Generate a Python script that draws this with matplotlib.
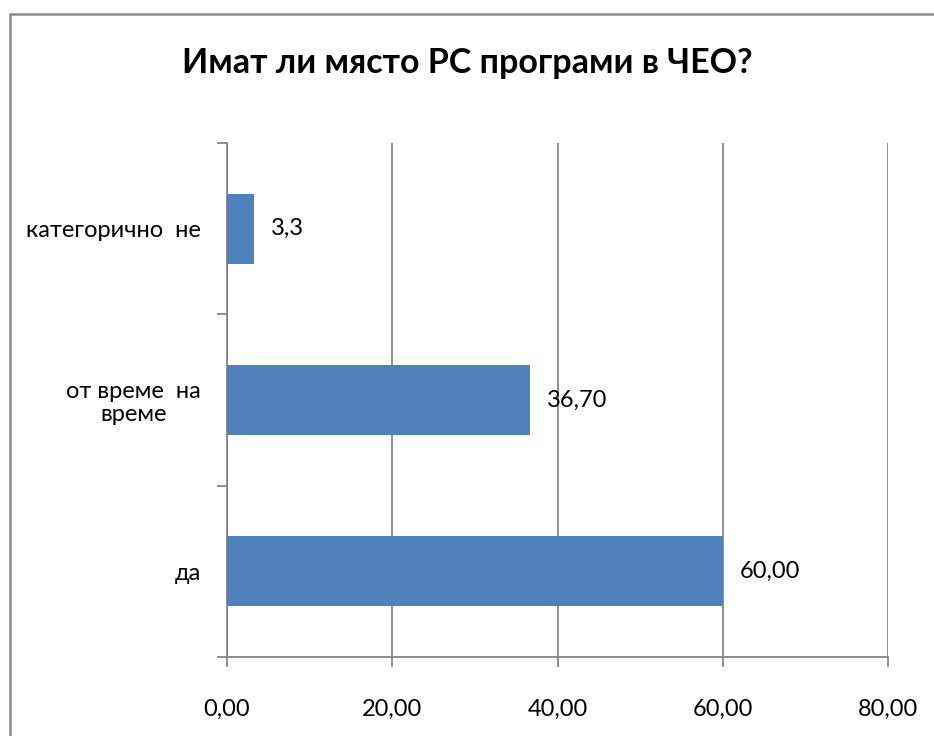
import matplotlib

matplotlib.use("Agg")

import matplotlib.pyplot as plt
from matplotlib.patches import Rectangle
from matplotlib.ticker import FixedLocator, FuncFormatter

# survey answers, bottom-to-top as drawn
categories = ["да", "от време  на\nвреме", "категорично  не"]
values = [60.00, 36.70, 3.3]
value_labels = ["60,00", "36,70", "3,3"]
xticks = [0, 20, 40, 60, 80]

BAR = "#4F81BD"
GRID = "#868686"
TXT = ["Lato", "DejaVu Sans"]
FS = 17

fig = plt.figure(figsize=(9.34, 7.36), dpi=100)
ax = fig.add_axes([227 / 934, 1 - 657 / 736, (888 - 227) / 934, (657 - 143) / 736])

ypos = list(range(len(categories)))
ax.barh(ypos, values, height=0.41, color=BAR, zorder=3)
for y, v, lab in zip(ypos, values, value_labels):
    ax.text(v + 2.0, y, lab, va="center", ha="left", fontsize=FS, family=TXT)

ax.set_xlim(0, 80)
ax.set_ylim(-0.5, len(categories) - 0.5)
ax.xaxis.set_major_locator(FixedLocator(xticks))
ax.xaxis.set_major_formatter(FuncFormatter(lambda v, _: f"{v:.2f}".replace(".", ",")))
ax.grid(axis="x", color=GRID, linewidth=1.3, zorder=0)

# category labels sit between the boundary ticks
ax.set_yticks(ypos)
ax.set_yticklabels(categories, family=TXT, fontsize=FS, multialignment="center",
                   linespacing=1.1)
ax.tick_params(axis="y", length=0, pad=19)
ax.set_yticks([-0.5, 0.5, 1.5, 2.5], minor=True)
ax.tick_params(axis="y", which="minor", length=7, width=1.3, color=GRID)
ax.tick_params(axis="x", length=7, width=1.3, color=GRID, pad=23, labelsize=FS)
for t in ax.get_xticklabels():
    t.set_family(TXT)

for side in ("top", "right"):
    ax.spines[side].set_visible(False)
for side in ("left", "bottom"):
    ax.spines[side].set_color(GRID)
    ax.spines[side].set_linewidth(1.3)

fig.text(0.5, 1 - 63 / 736, "Имат ли място PC програми в ЧЕО?", ha="center", va="center",
         fontsize=24.5, fontweight="bold", family=TXT)

# chart frame, runs off the right and bottom edges
fig.patches.append(Rectangle((9.5 / 934, -0.1), 1.2, 1.1 - 13.5 / 736, transform=fig.transFigure,
                             fill=False, edgecolor="#8C8C8C", linewidth=1.8))

fig.savefig("out.png", dpi=100)
